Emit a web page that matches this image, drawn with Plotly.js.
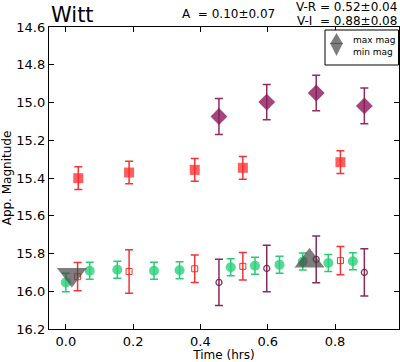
<!DOCTYPE html>
<html>
<head>
<meta charset="utf-8">
<script src="https://cdn.plot.ly/plotly-3.0.1.min.js"></script>
<style>html,body{margin:0;padding:0;background:#fff;}#chart{width:400px;height:362px;}</style>
</head>
<body>
<div id="chart"></div>
<script>
// Filled red squares
var redFillX = [0.037, 0.188, 0.383, 0.526, 0.816];
var redFillY = [15.401, 15.371, 15.357, 15.346, 15.316];
var redFillErr = [0.06, 0.06, 0.06, 0.06, 0.06];
// Filled purple diamonds
var purpFillX = [0.455, 0.597, 0.744, 0.887];
var purpFillY = [15.074, 14.998, 14.950, 15.018];
var purpFillErr = [0.095, 0.094, 0.094, 0.095];
// Green circles
var greenX = [0.000, 0.071, 0.153, 0.262, 0.338, 0.490, 0.562, 0.635, 0.704, 0.780, 0.853];
var greenY = [15.953, 15.891, 15.886, 15.891, 15.889, 15.873, 15.865, 15.859, 15.843, 15.850, 15.841];
var greenErr = [0.049, 0.045, 0.045, 0.045, 0.045, 0.045, 0.045, 0.045, 0.045, 0.045, 0.045];
// Open red squares
var redOpenX = [0.035, 0.188, 0.383, 0.526, 0.816];
var redOpenY = [15.923, 15.895, 15.881, 15.868, 15.838];
var redOpenErr = [0.075, 0.115, 0.073, 0.073, 0.075];
// Open purple circles
var purpOpenX = [0.455, 0.597, 0.744, 0.887];
var purpOpenY = [15.953, 15.879, 15.831, 15.900];
var purpOpenErr = [0.123, 0.123, 0.124, 0.125];
// max / min magnitude markers
var maxMagX = [0.724];
var maxMagY = [15.840];
var minMagX = [0.018];
var minMagY = [15.911];
// tick labels
var xTicks = [0.0, 0.2, 0.4, 0.6, 0.8];
var yTicks = [14.6, 14.8, 15.0, 15.2, 15.4, 15.6, 15.8, 16.0, 16.2];
// legend labels
var legendLabels = ['max mag', 'min mag'];

var FONT = "DejaVu Sans, sans-serif";
var GRAY = 'rgba(70,70,70,0.7)';
function errs(arr, color) {
  return {type: 'data', array: arr, visible: true, color: color, thickness: 1.5, width: 4};
}
var traces = [
  {x: redFillX, y: redFillY, mode: 'markers', type: 'scatter',
   marker: {symbol: 'square', size: 10, color: 'rgba(255,40,40,0.75)'},
   error_y: errs(redFillErr, 'rgba(240,30,30,0.9)')},
  {x: purpFillX, y: purpFillY, mode: 'markers', type: 'scatter',
   marker: {symbol: 'diamond', size: 13, color: 'rgba(140,25,90,0.8)'},
   error_y: errs(purpFillErr, 'rgba(130,20,80,0.9)')},
  {x: greenX, y: greenY, mode: 'markers', type: 'scatter',
   marker: {symbol: 'circle', size: 10, color: 'rgba(40,210,120,0.8)'},
   error_y: errs(greenErr, 'rgba(30,200,110,0.95)')},
  {x: redOpenX, y: redOpenY, mode: 'markers', type: 'scatter',
   marker: {symbol: 'square-open', size: 6, color: 'rgba(240,30,30,0.9)', line: {width: 1}},
   error_y: errs(redOpenErr, 'rgba(240,30,30,0.9)')},
  {x: purpOpenX, y: purpOpenY, mode: 'markers', type: 'scatter',
   marker: {symbol: 'circle-open', size: 6, color: 'rgba(120,20,75,0.9)', line: {width: 1.2}},
   error_y: errs(purpOpenErr, 'rgba(120,20,75,0.9)')},
  {x: maxMagX, y: maxMagY, mode: 'markers', type: 'scatter', name: legendLabels[0],
   marker: {symbol: 'triangle-up', size: 26, color: GRAY}},
  {x: minMagX, y: minMagY, mode: 'markers', type: 'scatter', name: legendLabels[1],
   marker: {symbol: 'triangle-down', size: 26, color: GRAY}}
];

// legend geometry (paper coords): plot area is 350 x 302 px starting at (49, 27)
function px(x) { return (x - 49) / 350; }
function py(y) { return 1 - (y - 27) / 302; }
function tri(cx, yApex, yBase, half) {
  return 'M' + px(cx) + ',' + py(yApex) + ' L' + px(cx - half) + ',' + py(yBase) +
         ' L' + px(cx + half) + ',' + py(yBase) + ' Z';
}

var layout = {
  width: 400, height: 362,
  margin: {l: 49, r: 1, t: 27, b: 33, pad: 0},
  paper_bgcolor: '#fff', plot_bgcolor: '#fff',
  font: {family: FONT, size: 13, color: '#000'},
  showlegend: false,
  xaxis: {range: [-0.05, 0.99], tickvals: xTicks, tickformat: '.1f', ticks: 'inside', ticklen: 5,
    tickcolor: '#000', showline: true, linecolor: '#000', linewidth: 1.2, mirror: 'allticks',
    showgrid: false, zeroline: false, tickfont: {size: 13},
    title: {text: 'Time (hrs)', font: {size: 12}, standoff: 4}},
  yaxis: {range: [16.2, 14.6], tickvals: yTicks, tickformat: '.1f', ticks: 'inside', ticklen: 5,
    tickcolor: '#000', showline: true, linecolor: '#000', linewidth: 1.2, mirror: 'allticks',
    showgrid: false, zeroline: false, tickfont: {size: 13},
    title: {text: 'App. Magnitude', font: {size: 12}, standoff: 6}},
  shapes: [
    {type: 'rect', xref: 'paper', yref: 'paper', x0: px(325), x1: px(398.5), y0: py(65), y1: py(30),
     line: {color: '#000', width: 1}, fillcolor: '#fff', layer: 'above'},
    {type: 'path', xref: 'paper', yref: 'paper', path: tri(336.5, 33, 44, 6.5),
     line: {width: 0}, fillcolor: GRAY, layer: 'above'},
    {type: 'path', xref: 'paper', yref: 'paper', path: tri(336.5, 56, 43, 6.5),
     line: {width: 0}, fillcolor: GRAY, layer: 'above'}
  ],
  annotations: [
    {xref: 'paper', yref: 'paper', x: 0, y: 1, xanchor: 'left', yanchor: 'bottom', yshift: -2,
     text: 'Witt', showarrow: false, font: {size: 21}},
    {xref: 'paper', yref: 'paper', x: px(180), y: py(14), xanchor: 'left', yanchor: 'middle',
     text: 'A&nbsp;&nbsp;= 0.10±0.07', showarrow: false, font: {size: 12}},
    {xref: 'paper', yref: 'paper', x: 1, y: py(7), xanchor: 'right', yanchor: 'middle',
     text: 'V-R = 0.52±0.04', showarrow: false, font: {size: 12}},
    {xref: 'paper', yref: 'paper', x: 1, y: py(21), xanchor: 'right', yanchor: 'middle',
     text: 'V-I&nbsp;&nbsp;= 0.88±0.08', showarrow: false, font: {size: 12}},
    {xref: 'paper', yref: 'paper', x: px(351), y: py(39.5), xanchor: 'left', yanchor: 'middle',
     text: legendLabels[0], showarrow: false, font: {size: 9}},
    {xref: 'paper', yref: 'paper', x: px(351), y: py(51.5), xanchor: 'left', yanchor: 'middle',
     text: legendLabels[1], showarrow: false, font: {size: 9}}
  ]
};
Plotly.newPlot('chart', traces, layout, {displayModeBar: false, staticPlot: true});
</script>
</body>
</html>
